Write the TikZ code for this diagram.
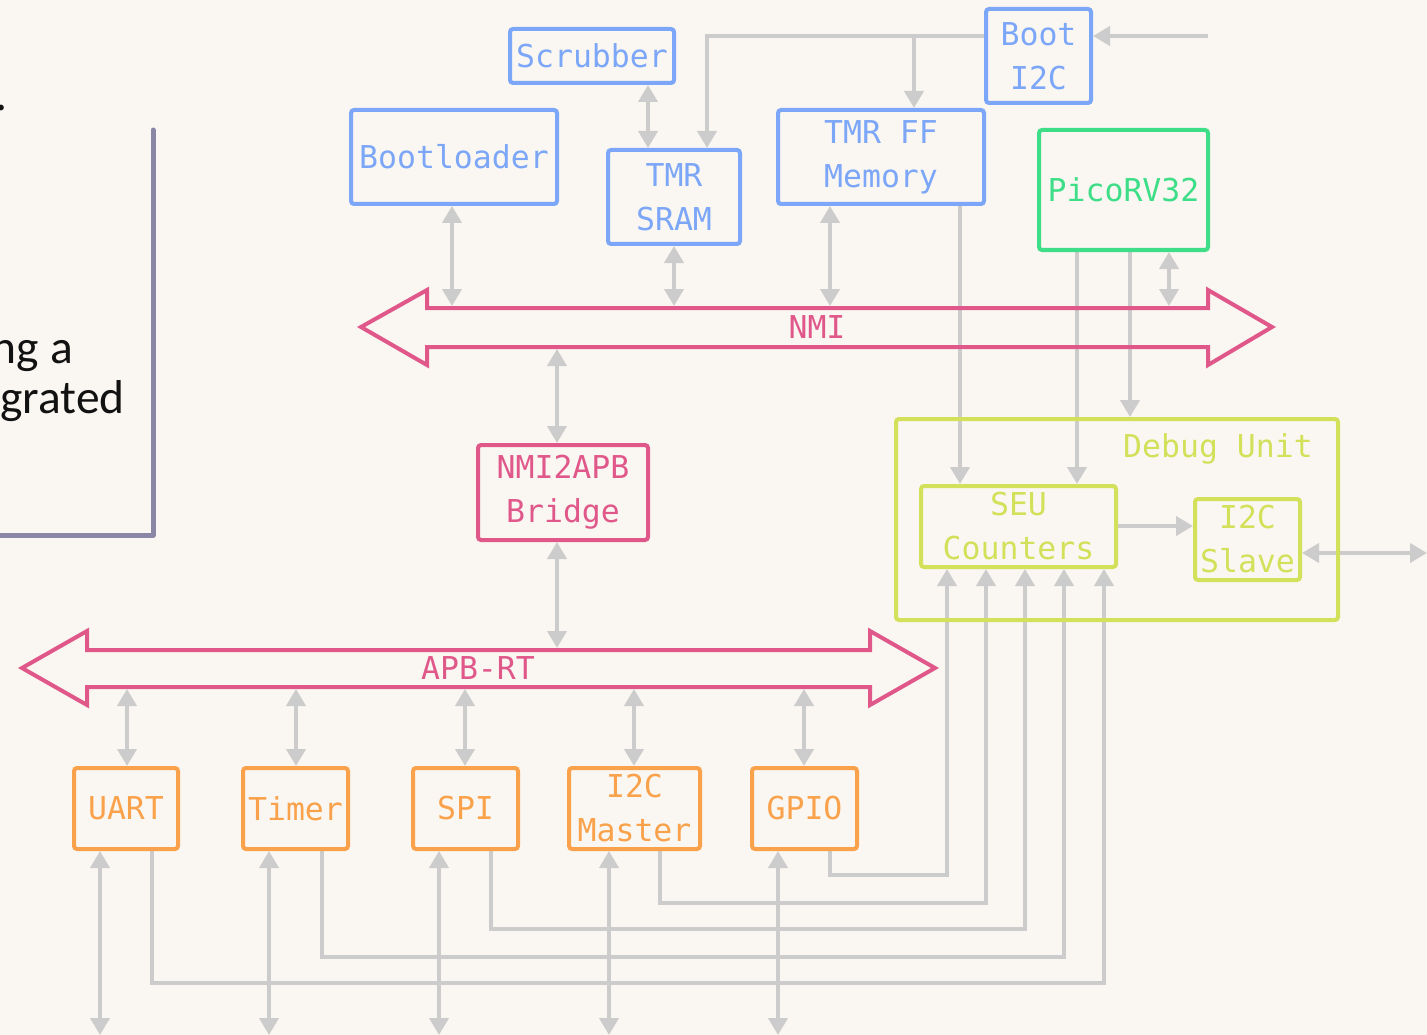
\documentclass[tikz,border=0pt]{standalone}
\usepackage{fontspec}
\setmainfont{Carlito}
\newfontfamily\blockfont{DejaVu Sans Mono}
\usetikzlibrary{arrows.meta,calc}

\definecolor{paper}{HTML}{FAF7F2}
\definecolor{memblue}{HTML}{7CA6F7}
\definecolor{cpugreen}{HTML}{3EDE88}
\definecolor{buspink}{HTML}{E0588A}
\definecolor{periorange}{HTML}{F9A24B}
\definecolor{dbgyellow}{HTML}{D2E05A}
\definecolor{wiregray}{HTML}{CCCCCC}
\definecolor{frameline}{HTML}{8A86A6}

\pgfdeclarelayer{back}
\pgfdeclarelayer{wires}
\pgfsetlayers{back,wires,main}

\tikzset{
  monotext/.style={font=\blockfont\fontsize{31.5}{44}\selectfont},
  block/.style={draw, line width=4pt, rounded corners=3pt, align=center,
                inner sep=0pt, monotext},
  mem/.style={block, draw=memblue, text=memblue},
  cpu/.style={block, draw=cpugreen, text=cpugreen},
  bridgebox/.style={block, draw=buspink, text=buspink},
  peri/.style={block, draw=periorange, text=periorange,
               minimum height=81pt},
  dbg/.style={block, draw=dbgyellow, text=dbgyellow},
  wire/.style={draw=wiregray, line width=4pt},
  onearrow/.style={wire, -{Triangle[width=19pt,length=17pt]}},
  twoarrow/.style={wire, {Triangle[width=19pt,length=17pt]}-{Triangle[width=19pt,length=17pt]}},
  busline/.style={draw=buspink, line width=4pt, line join=miter},
  buslabel/.style={monotext, text=buspink, inner sep=0pt},
  slidetext/.style={font=\fontsize{47.5}{52}\selectfont, text=black!93,
                    inner sep=0pt, anchor=base east},
}

\begin{document}
\begin{tikzpicture}[x=1pt,y=-1pt]
\begin{pgfonlayer}{back}
  \fill[paper] (0,0) rectangle (1427,1035);
\end{pgfonlayer}
\useasboundingbox (0,0) rectangle (1427,1035);
\clip (0,0) rectangle (1427,1035);

% slide text and frame on the left
\node[slidetext] (dot) at (8,111) {.};
\node[slidetext] (lineA) at (73,363) {ng a};
\node[slidetext] (lineB) at (125,413) {grated};
\draw[frameline, line width=5pt, line cap=round, line join=round]
  (153,130) -- (153,535) -- (0,535);

% memory side
\node[mem, minimum width=164pt, minimum height=54pt] (scrub) at (592,56) {Scrubber};
\node[mem, minimum width=206pt, minimum height=94pt] (bootl) at (454,157) {Bootloader};
\node[mem, minimum width=132pt, minimum height=94pt] (sram) at (674,197) {TMR\\SRAM};
\node[mem, minimum width=206pt, minimum height=94pt] (tmrff) at (881,157) {TMR FF\\Memory};
\node[mem, minimum width=105pt, minimum height=94pt] (booti2c) at (1038.5,56) {Boot\\I2C};
\node[cpu, minimum width=169pt, minimum height=120pt] (pico) at (1123.5,190) {PicoRV32};

% bridge
\node[bridgebox, minimum width=170pt, minimum height=95pt] (bridge) at (563,492.5) {NMI2APB\\Bridge};

% peripherals
\node[peri, minimum width=104pt] (uart) at (126,808.5) {UART};
\node[peri, minimum width=105pt] (timer) at (295.5,808.5) {Timer};
\node[peri, minimum width=105pt] (spi) at (465.5,808.5) {SPI};
\node[peri, minimum width=131pt] (i2cm) at (634.5,808.5) {I2C\\Master};
\node[peri, minimum width=105pt] (gpio) at (804.5,808.5) {GPIO};

% debug unit
\node[dbg, minimum width=442pt, minimum height=201pt] (dbgunit) at (1117,519.5) {};
\node[monotext, text=dbgyellow, inner sep=0pt] (dbglabel) at (1218,449) {Debug Unit};
\node[dbg, minimum width=195pt, minimum height=81pt] (seu) at (1018.5,526.5) {SEU\\Counters};
\node[dbg, minimum width=105pt, minimum height=81pt] (slave) at (1247.5,539.5) {I2C\\Slave};

% NMI bus
\draw[busline] (361,327) -- (427,290) -- (427,308) -- (1208,308) -- (1208,290)
  -- (1272,327) -- (1208,365) -- (1208,347) -- (427,347) -- (427,365) -- cycle;
\node[buslabel] (nmi) at (817,327) {NMI};
\coordinate (nmitop) at (817,306);
\coordinate (nmibot) at (817,349);

% APB-RT bus
\draw[busline] (22,668) -- (87,631) -- (87,650) -- (870,650) -- (870,631)
  -- (935,668) -- (870,705) -- (870,687) -- (87,687) -- (87,705) -- cycle;
\node[buslabel] (apb) at (478,668) {APB-RT};
\coordinate (apbtop) at (478,648);
\coordinate (apbbot) at (478,689);

% free ends of the outside connections
\coordinate (bootin) at (1208,36);
\coordinate (fork) at (914,36);
\coordinate (slaveext) at (1427,553);
\coordinate (uartext) at (100,1035);
\coordinate (timerext) at (269,1035);
\coordinate (spiext) at (439,1035);
\coordinate (i2cmext) at (609,1035);
\coordinate (gpioext) at (778,1035);

\begin{pgfonlayer}{wires}
  % memory and CPU to NMI
  \draw[twoarrow] (scrub.south -| 648,0) -- (sram.north -| 648,0);
  \draw[twoarrow] (bootl.south -| 452,0) -- (nmitop -| 452,0);
  \draw[twoarrow] (sram.south) -- (nmitop -| sram.south);
  \draw[twoarrow] (tmrff.south -| 830,0) -- (nmitop -| 830,0);
  \draw[twoarrow] (pico.south -| 1169,0) -- (nmitop -| 1169,0);
  % bridge
  \draw[twoarrow] (nmibot -| 557,0) -- (bridge.north -| 557,0);
  \draw[twoarrow] (bridge.south -| 557,0) -- (apbtop -| 557,0);
  % peripherals to APB-RT
  \draw[twoarrow] (apbbot -| 127,0) -- (uart.north -| 127,0);
  \draw[twoarrow] (apbbot -| 296,0) -- (timer.north -| 296,0);
  \draw[twoarrow] (apbbot -| 465,0) -- (spi.north -| 465,0);
  \draw[twoarrow] (apbbot -| 634,0) -- (i2cm.north -| 634,0);
  \draw[twoarrow] (apbbot -| 804,0) -- (gpio.north -| 804,0);
  % boot I2C
  \draw[onearrow] (bootin) -- (booti2c.east |- bootin);
  \draw[onearrow] (booti2c.west |- bootin) -| (sram.north -| 707,0);
  \draw[onearrow] (fork) -- (tmrff.north -| fork);
  % error signals into the debug unit
  \draw[onearrow] (tmrff.south -| 960,0) -- (seu.north -| 960,0);
  \draw[onearrow] (pico.south -| 1077,0) -- (seu.north -| 1077,0);
  \draw[onearrow] (pico.south -| 1130,0) -- (dbgunit.north -| 1130,0);
  \draw[onearrow] (seu.east |- 0,526) -- (slave.west |- 0,526);
  \draw[twoarrow] (slave.east |- slaveext) -- (slaveext);
  \draw[onearrow] (gpio.south -| 830,0) |- (947,875) -- (seu.south -| 947,0);
  \draw[onearrow] (i2cm.south -| 660,0) |- (986,903) -- (seu.south -| 986,0);
  \draw[onearrow] (spi.south -| 491,0) |- (1025,929) -- (seu.south -| 1025,0);
  \draw[onearrow] (timer.south -| 322,0) |- (1064,957) -- (seu.south -| 1064,0);
  \draw[onearrow] (uart.south -| 152,0) |- (1104,983) -- (seu.south -| 1104,0);
  % outside pins
  \draw[twoarrow] (uart.south -| uartext) -- (uartext);
  \draw[twoarrow] (timer.south -| timerext) -- (timerext);
  \draw[twoarrow] (spi.south -| spiext) -- (spiext);
  \draw[twoarrow] (i2cm.south -| i2cmext) -- (i2cmext);
  \draw[twoarrow] (gpio.south -| gpioext) -- (gpioext);
\end{pgfonlayer}
\end{tikzpicture}
\end{document}
